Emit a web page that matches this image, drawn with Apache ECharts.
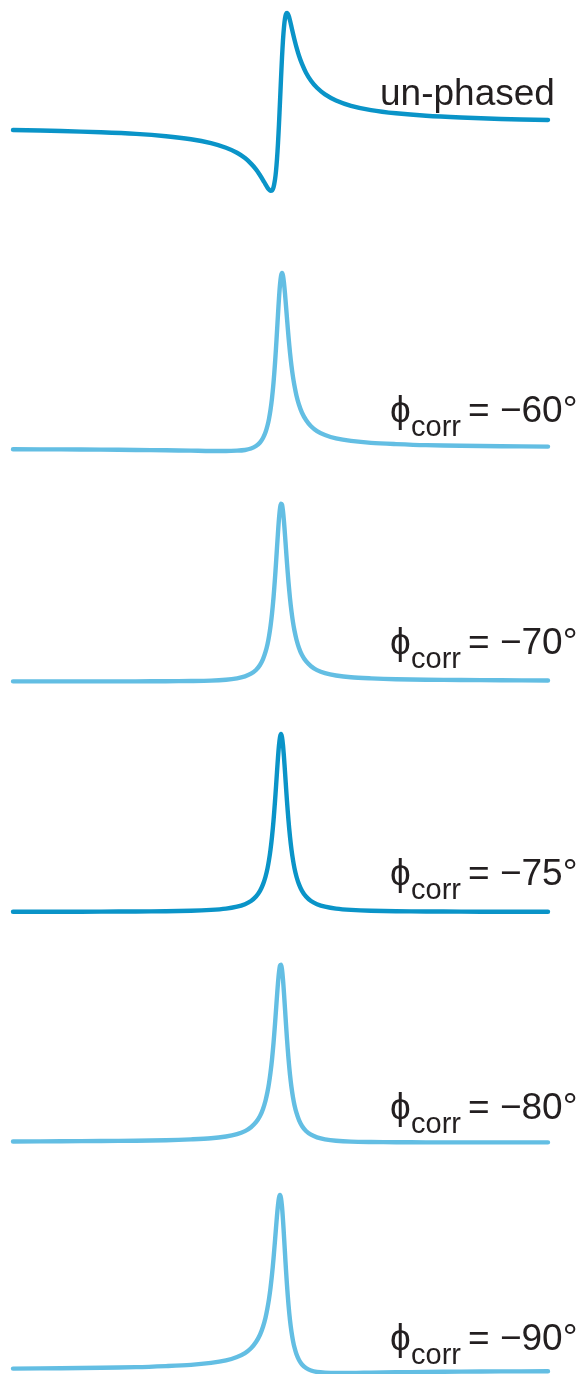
<!DOCTYPE html>
<html><head><meta charset="utf-8">
<script src="https://cdn.jsdelivr.net/npm/echarts@6/dist/echarts.min.js"></script>
<style>html,body{margin:0;padding:0;background:#fff}#c{width:582px;height:1374px}</style>
</head><body><div id="c"></div>
<script>
// frequency offset from the resonance (Hz)
const offsetHz = [-268, -220, -180, -145, -115, -90, -70, -55, -44, -36, -30, -25, -21, -18, -15.5, -13.5, -12, -10.5, -9, -7.5, -6, -5, -4, -3, -2, -1,
  0, 1, 2, 3, 4, 5, 6, 7.5, 9, 10.5, 12, 13.5, 15.5, 18, 21, 25, 30, 36, 44, 55, 70, 90, 115, 145, 180, 220, 267];

// intensities (fully phased peak = 100)
const unphased = [-2.8, -3.4, -4.1, -5.0, -6.3, -8.0, -10.2, -12.8, -15.6, -18.6, -21.7, -24.9, -28.2, -30.9, -33.4, -35.2, -36.3, -37.0, -36.8, -35.0, -30.7, -25.9, -19.1, -10.2, 0.7, 13.1,
  25.9, 37.8, 47.8, 55.1, 59.9, 62.3, 62.9, 61.6, 58.7, 55.1, 51.4, 47.9, 43.6, 38.9, 34.3, 29.4, 24.9, 20.9, 17.2, 13.8, 10.8, 8.4, 6.6, 5.2, 4.2, 3.4, 2.8];
const corr60 = [-0.7, -0.8, -0.9, -1.1, -1.3, -1.5, -1.7, -1.7, -1.5, -1.1, -0.3, 1.1, 3.1, 5.6, 8.8, 12.6, 16.4, 21.4, 28.0, 36.6, 47.6, 56.1, 65.5, 75.1, 84.2, 91.7,
  96.6, 98.3, 96.8, 92.6, 86.7, 79.8, 72.7, 62.5, 53.6, 46.1, 39.9, 34.9, 29.4, 24.3, 19.8, 15.7, 12.2, 9.5, 7.3, 5.4, 4.0, 2.9, 2.2, 1.6, 1.3, 1.0, 0.8];
const corr70 = [-0.2, -0.2, -0.2, -0.2, -0.1, 0.0, 0.2, 0.7, 1.5, 2.6, 4.1, 6.2, 9.0, 12.3, 16.3, 20.7, 25.1, 30.7, 37.8, 46.8, 57.8, 66.1, 74.9, 83.5, 91.2, 96.9,
  99.6, 99.1, 95.4, 89.4, 82.0, 74.1, 66.2, 55.5, 46.4, 39.0, 33.0, 28.2, 23.2, 18.6, 14.6, 11.1, 8.3, 6.1, 4.4, 3.1, 2.1, 1.5, 1.0, 0.7, 0.6, 0.4, 0.3];
const corr75 = [0.1, 0.1, 0.2, 0.3, 0.4, 0.7, 1.2, 1.9, 3.0, 4.4, 6.2, 8.7, 11.9, 15.5, 19.8, 24.5, 29.2, 35.0, 42.3, 51.3, 62.2, 70.3, 78.7, 86.8, 93.7, 98.3,
  100, 98.3, 93.7, 86.8, 78.7, 70.3, 62.2, 51.3, 42.3, 35.0, 29.2, 24.5, 19.8, 15.5, 11.9, 8.7, 6.2, 4.4, 3.0, 1.9, 1.2, 0.7, 0.4, 0.3, 0.2, 0.1, 0.1];
const corr80 = [0.3, 0.4, 0.6, 0.7, 1.0, 1.5, 2.1, 3.1, 4.4, 6.1, 8.3, 11.1, 14.6, 18.6, 23.2, 28.2, 33.0, 39.0, 46.4, 55.5, 66.2, 74.1, 82.0, 89.4, 95.4, 99.1,
  99.6, 96.9, 91.2, 83.5, 74.9, 66.1, 57.8, 46.8, 37.8, 30.7, 25.1, 20.7, 16.3, 12.3, 9.0, 6.2, 4.1, 2.6, 1.5, 0.7, 0.2, 0.0, -0.1, -0.2, -0.2, -0.2, -0.2];
const corr90 = [0.8, 1.0, 1.3, 1.6, 2.2, 2.9, 4.0, 5.4, 7.3, 9.5, 12.2, 15.7, 19.8, 24.3, 29.4, 34.9, 39.9, 46.1, 53.6, 62.5, 72.7, 79.8, 86.7, 92.6, 96.8, 98.3,
  96.6, 91.7, 84.2, 75.1, 65.5, 56.1, 47.6, 36.6, 28.0, 21.4, 16.4, 12.6, 8.8, 5.6, 3.1, 1.1, -0.3, -1.1, -1.5, -1.7, -1.7, -1.5, -1.3, -1.1, -0.9, -0.8, -0.7];

const traces = [unphased, corr60, corr70, corr75, corr80, corr90];
const phaseAngles = [null, -60, -70, -75, -80, -90];
const titleText = 'un-phased';

// layout (styles / positions)
const DARK = '#0a94c8', LIGHT = '#63bee3', TEXT = '#231f20';
const colors = [DARK, LIGHT, LIGHT, DARK, LIGHT, LIGHT];
const baseY = [125, 448, 681, 912, 1142, 1370];
const yMin = [-40, -20, -20, -20, -20, -2];
const yMax = [70, 105, 105, 105, 105, 105];
const labelBase = [108, 425, 657, 888, 1122, 1353];
const PX = 1.78;

const grids = [], xAxes = [], yAxes = [], series = [], graphics = [];
traces.forEach((ys, i) => {
  grids.push({ left: 13, width: 535, top: baseY[i] - yMax[i] * PX, height: (yMax[i] - yMin[i]) * PX });
  xAxes.push({ type: 'value', gridIndex: i, min: -268, max: 267, show: false });
  yAxes.push({ type: 'value', gridIndex: i, min: yMin[i], max: yMax[i], show: false });
  series.push({
    type: 'line', xAxisIndex: i, yAxisIndex: i, symbol: 'none', smooth: 0.3,
    data: offsetHz.map((x, j) => [x, ys[j]]),
    lineStyle: { color: colors[i], width: 4.4, cap: 'round', join: 'round' },
    clip: false, silent: true
  });
});

const F = '"Liberation Sans", Arial, Helvetica, sans-serif';
const MAIN = 37, SUB = 29;
const mid = (b, size) => b - 0.3465 * size;
graphics.push({ type: 'text', x: 380, y: mid(labelBase[0], MAIN),
  style: { text: titleText, font: MAIN + 'px ' + F, fill: TEXT, verticalAlign: 'middle' } });
phaseAngles.forEach((a, i) => {
  if (a === null) return;
  const b = labelBase[i];
  graphics.push({ type: 'text', x: 390, y: mid(b, MAIN), style: { text: 'ϕ', font: MAIN + 'px ' + F, fill: TEXT, verticalAlign: 'middle' } });
  graphics.push({ type: 'text', x: 411, y: mid(b + 13, SUB), style: { text: 'corr', font: SUB + 'px ' + F, fill: TEXT, verticalAlign: 'middle' } });
  graphics.push({ type: 'text', x: 468, y: mid(b, MAIN), style: { text: '= \u2212' + Math.abs(a) + '°', font: MAIN + 'px ' + F, fill: TEXT, verticalAlign: 'middle' } });
});

const chart = echarts.init(document.getElementById('c'), null, { renderer: 'canvas' });
chart.setOption({
  animation: false,
  backgroundColor: '#fff',
  grid: grids, xAxis: xAxes, yAxis: yAxes, series: series,
  graphic: graphics
});
</script></body></html>
